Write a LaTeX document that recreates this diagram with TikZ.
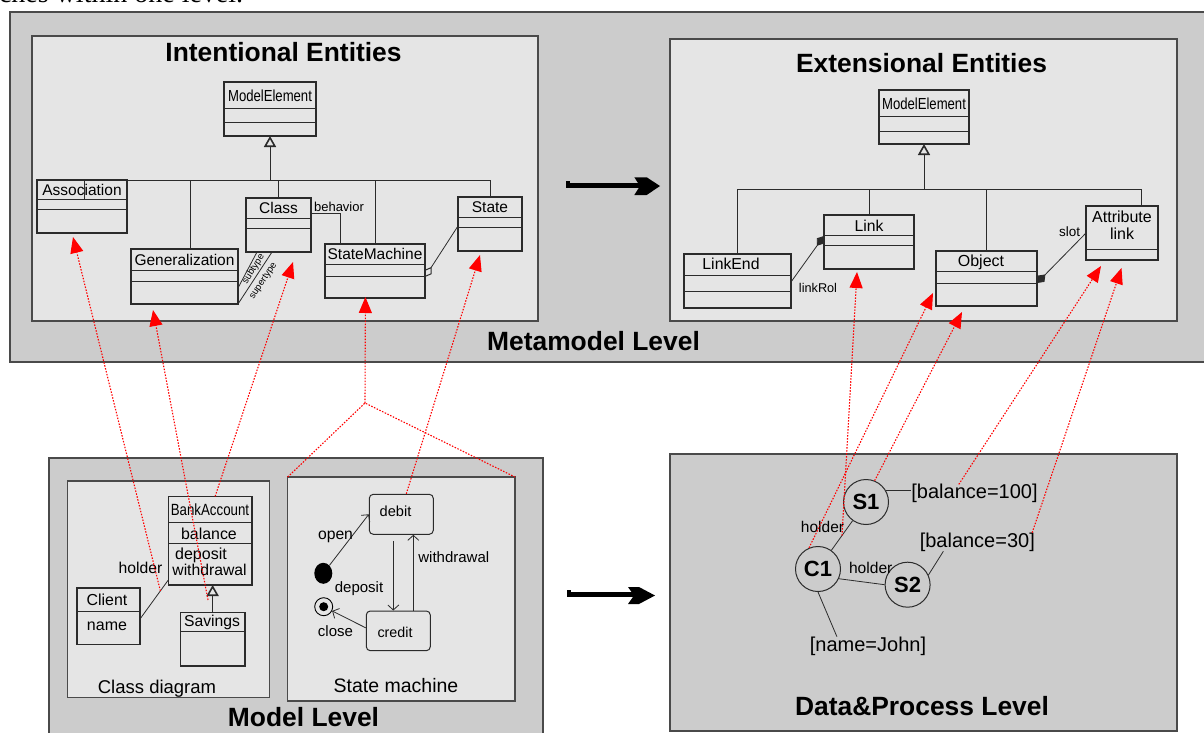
\documentclass[tikz,border=0pt]{standalone}
\usepackage{fontspec}
\setmainfont{Liberation Sans}
\newfontfamily\capserif{Liberation Serif}
\newfontfamily\condsans[FakeStretch=0.82]{Liberation Sans}
\usetikzlibrary{arrows.meta,shapes.geometric}
\definecolor{outerfill}{HTML}{CCCCCC}
\definecolor{innerfill}{HTML}{E5E5E5}
\definecolor{edgec}{HTML}{4A4A4A}
\definecolor{linec}{HTML}{2B2B2B}
\definecolor{instred}{HTML}{FF0000}
\newcommand\fsz[1]{\fontsize{#1}{#1}\selectfont}
\newcommand\TX[6][]{\node[lbl,anchor=base,#1] (#2) at (#3,{#4+0.358*#5}) {\fsz{#5}#6};}
\newcommand\UBox[5]{\node[ubox,minimum width={#4-#2},minimum height={#5-#3}] (#1) at ({(#2+#4)/2},{(#3+#5)/2}) {};}
\newcommand\CLine[2]{\draw[uline] (#1.west |- 0,#2) -- (#1.east |- 0,#2);}
\begin{document}
\begin{tikzpicture}[x=1pt,y=-1pt,line join=miter,
 lbl/.style={inner sep=0pt,outer sep=0pt},
 level/.style={draw=edgec,line width=1.4pt,fill=outerfill},
 panel/.style={draw=edgec,line width=1.2pt,fill=innerfill},
 ubox/.style={draw=linec,line width=1.1pt,fill=innerfill,inner sep=0pt,outer sep=0pt},
 uline/.style={draw=linec,line width=1pt},
 thinl/.style={draw=linec,line width=0.8pt},
 gent/.style={uline,-{Triangle[open,length=11pt,width=12pt,line width=1.6pt]}},
 fcomp/.style={thinl,-{Diamond[length=12pt,width=9pt]}},
 ocomp/.style={thinl,-{Diamond[open,length=12pt,width=8pt,line width=1pt]}},
 sbox/.style={draw=linec,line width=1pt,rounded corners=4pt,fill=innerfill,inner sep=0pt},
 trans/.style={thinl,-{Straight Barb[length=5pt,width=11pt]}},
 obj/.style={circle,draw=linec,line width=1pt,minimum size=45pt,inner sep=0pt},
 instl/.style={draw=instred,line width=1.1pt,dash pattern=on 1.5pt off 1.5pt},
 inst/.style={instl,-{Triangle[length=16pt,width=13pt]}}]

\useasboundingbox (0,0) rectangle (1204,733);
\clip (0,0) rectangle (1204,733);
\fill[white] (0,0) rectangle (1204,733);

% caption sliver at the top
\node[lbl,anchor=base west] (capt) at (-1,3) {\capserif\fsz{28}ches within one level.};

% ---------- level boxes ----------
\draw[level] (10,12) rectangle (1220,362);
\draw[panel] (32,36) rectangle (538,321);
\draw[panel] (670,39) rectangle (1177,321);
\draw[level] (49,458) rectangle (543,745);
\draw[panel] (67.3,481) rectangle (269.3,697.3);
\node[panel,inner sep=0pt,outer sep=0pt,minimum width=227.3pt,minimum height=224pt] (smb) at (401.35,589) {};
\draw[level] (670,454) rectangle (1177,731);

\TX{ttl1}{283.5}{51.7}{26.4}{\bfseries Intentional Entities}
\TX{ttl2}{921.5}{63.3}{26.4}{\bfseries Extensional Entities}
\TX{ttl3}{593.5}{340.8}{26.4}{\bfseries Metamodel Level}
\TX{ttl4}{303.5}{717.5}{26.4}{\bfseries Model Level}
\TX{ttl5}{922}{705.8}{26.4}{\bfseries Data\&Process Level}

% ---------- intentional entities ----------
\UBox{me1}{224}{82}{316}{136} \CLine{me1}{109} \CLine{me1}{123}
\UBox{assoc}{37}{180}{127}{233} \CLine{assoc}{199} \CLine{assoc}{209}
\UBox{gen}{131}{249}{238}{304} \CLine{gen}{270} \CLine{gen}{281}
\UBox{cls}{246}{198}{311}{252} \CLine{cls}{218} \CLine{cls}{228}
\UBox{sm}{325}{244}{425}{298} \CLine{sm}{264} \CLine{sm}{276}
\UBox{st}{458}{197}{522}{251} \CLine{st}{217} \CLine{st}{227}
\draw[uline] (84,180) -- (84,199);

\draw[uline] (assoc.north west) -- (st.north |- 0,180) -- (st.north);
\draw[uline] (gen.north -| 190,0) -- (190,180);
\draw[uline] (cls.north) -- (cls.north |- 0,180);
\draw[uline] (sm.north) -- (sm.north |- 0,180);
\draw[gent] (me1.south |- 0,180) -- (me1.south);
\draw[uline] (cls.east |- 0,213) -- (340,213) -- (sm.north -| 340,0);
\draw[thinl] (cls.south -| 257,0) -- (gen.east |- 0,288);
\draw[thinl] (cls.south -| 272,0) -- (gen.south east);
\draw[ocomp] (st.west |- 0,226) -- (sm.east |- 0,277);

\TX{me1t}{270}{96}{16}{\condsans ModelElement}
\TX{assoct}{82}{190}{15.5}{Association}
\TX{gentx}{184.5}{259.5}{15.5}{Generalization}
\TX{clst}{278.5}{208}{15.5}{Class}
\TX{smt}{375}{254}{15.5}{StateMachine}
\TX{stt}{490}{207}{15.5}{State}
\TX{behav}{339}{207}{13}{behavior}
\node[lbl,rotate=58] (subt) at (253.5,269) {\fsz{9.5}subtype};
\node[lbl,rotate=56] (supt) at (263.5,281) {\fsz{9.5}supertype};

% ---------- extensional entities ----------
\UBox{me2}{879}{90}{969}{144} \CLine{me2}{117} \CLine{me2}{132}
\UBox{le}{684}{254}{791}{308} \CLine{le}{275} \CLine{le}{291}
\UBox{lk}{824}{215}{914}{269} \CLine{lk}{235} \CLine{lk}{245}
\UBox{ob}{936}{251}{1037}{306} \CLine{ob}{271} \CLine{ob}{283}
\UBox{at}{1086}{206}{1158}{260} \CLine{at}{249}

\draw[uline] (le.north) -- (le.north |- 0,189) -- (1141.6,189) -- (at.north -| 1141.6,0);
\draw[uline] (lk.north) -- (lk.north |- 0,189);
\draw[uline] (ob.north) -- (ob.north |- 0,189);
\draw[gent] (me2.south |- 0,189) -- (me2.south);
\draw[fcomp] (le.east |- 0,282) -- (lk.west |- 0,236);
\draw[fcomp] (at.west |- 0,233) -- (ob.east |- 0,283);

\TX{me2t}{924}{103.5}{16}{\condsans ModelElement}
\TX{let}{731}{264}{15.8}{LinkEnd}
\TX{lkt}{869}{226}{15.7}{Link}
\TX{obt}{981}{261}{16}{Object}
\TX{att1}{1122}{216.7}{16}{Attribute}
\TX{att2}{1122}{234}{16}{link}
\TX{lrol}{818}{288}{12.7}{linkRol}
\TX{slot}{1069.5}{232}{13.5}{slot}

% ---------- thick arrows ----------
\fill (566,182.7) rectangle (642,187.8);
\fill (566,180.5) rectangle (569.5,187.8);
\fill (634.3,177.3) -- (646.7,177.3) -- (660,186) -- (646.7,195) -- (634.3,195) -- (640,186) -- cycle;
\fill (567,591.7) rectangle (634,596.7);
\fill (567,589.5) rectangle (570.5,596.7);
\fill (628,587) -- (639,587) -- (655,595.5) -- (639,604) -- (628,604) -- (634,595.5) -- cycle;

% ---------- class diagram ----------
\UBox{ba}{168.3}{496.3}{252}{585} \CLine{ba}{522.7} \CLine{ba}{543.7}
\UBox{client}{77}{588}{140}{644.7} \CLine{client}{611.3}
\UBox{sav}{180.3}{612.3}{245}{666} \CLine{sav}{631.3}
\draw[gent] (sav.north) -- (sav.north |- ba.south);
\draw[thinl] (client.east |- 0,619) -- (ba.west |- 0,580);

\TX{bat}{210}{510}{16.2}{\condsans BankAccount}
\TX{bal}{209}{534.3}{15.9}{balance}
\TX{dep}{201}{554}{16}{deposit}
\TX{wd}{209.5}{570}{15.7}{withdrawal}
\TX{clt}{107}{600}{15.9}{Client}
\TX{nmt}{107}{625}{16}{name}
\TX{savt}{212}{621}{15.7}{Savings}
\TX{hold}{140.5}{568.3}{15.7}{holder}
\TX{cdl}{157}{687.3}{18.5}{Class diagram}
\TX{sml}{396}{686}{19.5}{State machine}

% ---------- state machine ----------
\node[sbox,minimum width=64pt,minimum height=40pt] (debit) at (401.3,514.3) {};
\node[sbox,minimum width=64pt,minimum height=39.7pt] (credit) at (398.3,630.85) {};
\node[ellipse,fill=black,minimum width=18pt,minimum height=21pt,inner sep=0pt] (init) at (323.3,573.3) {};
\node[circle,draw=black,line width=0.9pt,minimum size=18pt,inner sep=0pt] (final) at (323.7,606.7) {};
\node[circle,fill=black,minimum size=9pt,inner sep=0pt] (finaldot) at (final.center) {};
\draw[trans] (init) -- (debit.west);
\draw[trans] ([xshift=-8pt,yshift=-6pt]debit.south) -- ([xshift=-5pt]credit.north);
\draw[trans] ([xshift=15pt]credit.north) -- ([xshift=12pt]debit.south);
\draw[trans] ([yshift=3pt]credit.west) -- (final);

\TX{debt}{395.5}{511.7}{14.6}{debit}
\TX{crt}{395}{632.7}{14.3}{credit}
\TX{opn}{335.5}{534}{15.7}{open}
\TX{dps}{359}{586.7}{15}{deposit}
\TX{wdl}{453.8}{557.3}{15}{withdrawal}
\TX{clo}{335.5}{631}{15}{close}

% ---------- data & process ----------
\node[obj] (s1) at (866,502) {\fsz{22}\bfseries S1};
\node[obj] (c1) at (818,569) {\fsz{22}\bfseries C1};
\node[obj] (s2) at (907.6,584.7) {\fsz{22}\bfseries S2};
\TX{b100}{974.5}{491.7}{20}{[balance=100]}
\TX{b30}{977.3}{540}{20}{[balance=30]}
\TX{nj}{868}{644}{20}{[name=John]}
\TX{h1}{822.5}{526.7}{15.5}{holder}
\TX{h2}{870.7}{567.7}{15.6}{holder}
\draw[thinl] (c1) -- (s1);
\draw[thinl] (c1.-25) -- (s2.west);
\draw[thinl] (c1.south) -- ([xshift=27pt]nj.north west);
\draw[thinl] (s1.30) -- (b100.west |- s1.30);
\draw[thinl] (s2.25) -- ([xshift=23.6pt]b30.south west);

% ---------- instance-of links ----------
\coordinate (t1) at (73,237);
\coordinate (t2) at (153,310);
\coordinate (t3) at (293,262);
\coordinate (t4) at (365.4,297);
\coordinate (t5) at (480,255);
\coordinate (t6) at (857,272);
\coordinate (t7) at (933,293);
\coordinate (t8) at (962,312);
\coordinate (t9) at (1101,266);
\coordinate (t10) at (1121.5,268);
\coordinate (j4) at (365,403);
\coordinate (gpt) at (208,600);
\path (client.east |- 0,619) -- (ba.west |- 0,580) coordinate[pos=0.72] (hpt);
\path (c1) -- (s1) coordinate[pos=0.5] (cs);

\draw[inst] (hpt) -- (t1);
\draw[inst] (gpt) -- (t2);
\draw[inst] ([xshift=5pt]ba.north) -- (t3);
\draw[instl] (smb.north west) -- (j4) -- (smb.north east);
\draw[inst] (j4) -- (t4);
\draw[inst] ([xshift=5pt]debit.north) -- (t5);
\draw[inst] (cs) -- (t6);
\draw[inst] (c1.113) -- (t7);
\draw[inst] (s1.68) -- (t8);
\draw[inst] ([xshift=47.4pt]b100.north west) -- (t9);
\draw[inst] ([xshift=-2.7pt]b30.north east) -- (t10);
\end{tikzpicture}
\end{document}
